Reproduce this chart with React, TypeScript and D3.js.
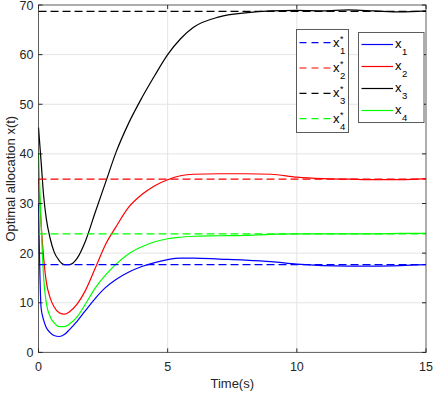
import React from "react";
import * as d3 from "d3";

const T = [0, 0.1, 0.2, 0.3, 0.45, 0.6, 0.8, 1.0, 1.2, 1.5, 1.8, 2.2, 2.6, 3.0, 3.5, 4.0, 4.5, 5.0, 5.5, 6.0, 7.0, 8.0, 9.0, 10, 11, 12, 13, 14, 15];
const X1 = [30, 9, 6.5, 5.0, 4.0, 3.4, 3.2, 3.6, 4.6, 6.3, 8.3, 10.9, 13.1, 14.7, 16.2, 17.3, 18.1, 18.7, 19.0, 19.0, 18.8, 18.6, 18.3, 17.8, 17.5, 17.4, 17.4, 17.5, 17.7];
const X2 = [35, 26, 19, 14.3, 11, 9.2, 8.0, 7.7, 8.2, 9.8, 12.3, 17.0, 21.8, 25.3, 29.3, 31.8, 33.6, 34.8, 35.6, 35.9, 36.0, 36.0, 35.9, 35.3, 35.0, 34.9, 34.8, 34.8, 35.0];
const X3 = [45.3, 38.5, 31.5, 27, 23, 20.3, 18.5, 17.7, 17.7, 19.0, 22.2, 28.3, 34.3, 40.3, 46.3, 51.3, 55.8, 60.0, 63.2, 65.5, 67.6, 68.4, 68.8, 68.9, 68.8, 69.0, 68.8, 68.6, 68.8];
const X4 = [40.2, 26, 15, 10, 7.2, 6.0, 5.2, 5.2, 5.7, 7.2, 9.6, 13.0, 15.6, 17.8, 19.9, 21.3, 22.3, 22.9, 23.2, 23.4, 23.5, 23.6, 23.8, 23.9, 23.9, 23.9, 23.9, 24.0, 24.0];
const EQ = [17.7, 34.9, 68.7, 23.9];
const COLORS = ["#0000ff", "#ff0000", "#000000", "#00ff00"];
const SERIES = [X1, X2, X3, X4];
const XTICKS = [0, 5, 10, 15];
const YTICKS = [0, 10, 20, 30, 40, 50, 60, 70];
const LABELS = ["1", "2", "3", "4"];

const W = 436, H = 394;
const L = 38.5, R = 426, TOP = 5, BOT = 352.4;

export default function App() {
  const x = d3.scaleLinear().domain([0, 15]).range([L, R]);
  const y = d3.scaleLinear().domain([0, 70]).range([BOT, TOP]);
  const line = d3.line<number>().x((_, i) => x(T[i])).y((d) => y(d)).curve(d3.curveMonotoneX);
  const font = "'Liberation Sans', Arial, sans-serif";
  const axisCol = "#262626";
  const gridCol = "#e4e4e4";
  const dash = "8,4";
  return (
    <svg width={W} height={H} style={{ position: "absolute", left: 0, top: 0, background: "#fff" }} fontFamily={font}>
      <rect x={0} y={0} width={W} height={H} fill="#fff" />
      {/* grid */}
      {XTICKS.slice(1, -1).map((t) => (
        <line key={"gx" + t} x1={x(t)} x2={x(t)} y1={TOP} y2={BOT} stroke={gridCol} strokeWidth={1} />
      ))}
      {YTICKS.slice(1, -1).map((t) => (
        <line key={"gy" + t} x1={L} x2={R} y1={y(t)} y2={y(t)} stroke={gridCol} strokeWidth={1} />
      ))}
      {/* curves */}
      {SERIES.map((s, i) => (
        <path key={"s" + i} d={line(s) || ""} fill="none" stroke={COLORS[i]} strokeWidth={1.2} />
      ))}
      {EQ.map((v, i) => (
        <line key={"e" + i} x1={x(0)} x2={x(15)} y1={y(v)} y2={y(v)} stroke={COLORS[i]} strokeWidth={1.2} strokeDasharray={dash} />
      ))}
      {/* box */}
      <rect x={L} y={TOP} width={R - L} height={BOT - TOP} fill="none" stroke={axisCol} strokeOpacity={0.75} strokeWidth={1} />
      {/* ticks */}
      {XTICKS.map((t) => (
        <g key={"tx" + t}>
          <line x1={x(t)} x2={x(t)} y1={BOT} y2={BOT - 4} stroke={axisCol} />
          <line x1={x(t)} x2={x(t)} y1={TOP} y2={TOP + 4} stroke={axisCol} />
          <text x={x(t)} y={BOT + 19} textAnchor="middle" fontSize={12.5} fill={axisCol}>{t}</text>
        </g>
      ))}
      {YTICKS.map((t) => (
        <g key={"ty" + t}>
          <line x1={L} x2={L + 4} y1={y(t)} y2={y(t)} stroke={axisCol} />
          <line x1={R} x2={R - 4} y1={y(t)} y2={y(t)} stroke={axisCol} />
          <text x={L - 5} y={y(t) + 4.5} textAnchor="end" fontSize={12.5} fill={axisCol}>{t}</text>
        </g>
      ))}
      <text x={(L + R) / 2} y={388} textAnchor="middle" fontSize={13} fill={axisCol}>Time(s)</text>
      <text transform={`translate(15,${(TOP + BOT) / 2}) rotate(-90)`} textAnchor="middle" fontSize={13} fill={axisCol}>Optimal allocation x(t)</text>
      {/* legend 1 */}
      <rect x={296.5} y={29.5} width={52} height={103} fill="#fff" stroke={axisCol} strokeOpacity={0.75} />
      {EQ.map((_, i) => {
        const yy = 42.7 + i * 25.3;
        return (
          <g key={"l1" + i}>
            <line x1={299.5} x2={331} y1={yy} y2={yy} stroke={COLORS[i]} strokeWidth={1.2} strokeDasharray="7,5" />
            <text x={333} y={yy + 4} fontSize={13} fill="#000">x</text>
            <text x={340} y={yy + 11} fontSize={9.5} fill="#000">{LABELS[i]}</text>
            <text x={340} y={yy - 1} fontSize={9} fill="#000">*</text>
          </g>
        );
      })}
      {/* legend 2 */}
      <rect x={358.5} y={32.5} width={65.5} height={90} fill="#fff" stroke={axisCol} strokeOpacity={0.75} />
      {SERIES.map((_, i) => {
        const yy = 44.5 + i * 22;
        return (
          <g key={"l2" + i}>
            <line x1={361.5} x2={393} y1={yy} y2={yy} stroke={COLORS[i]} strokeWidth={1.2} />
            <text x={395} y={yy + 3} fontSize={13} fill="#000">x</text>
            <text x={402} y={yy + 10} fontSize={9.5} fill="#000">{LABELS[i]}</text>
          </g>
        );
      })}
    </svg>
  );
}
